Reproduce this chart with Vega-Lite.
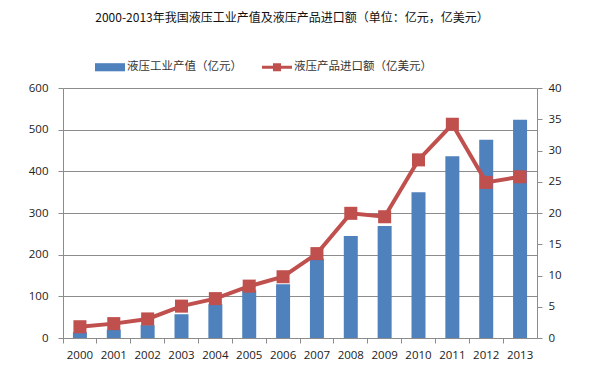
{
  "$schema": "https://vega.github.io/schema/vega-lite/v6.json",
  "width": 474,
  "height": 250,
  "autosize": {"type": "none"},
  "padding": {"left": 63, "top": 88, "right": 61, "bottom": 40},
  "background": "white",
  "title": {
    "text": "2000-2013年我国液压工业产值及液压产品进口额（单位：亿元，亿美元）",
    "anchor": "middle",
    "font": "Noto Sans CJK SC",
    "fontSize": 12,
    "fontWeight": "normal",
    "color": "#111111",
    "offset": 27,
    "dx": -8
  },
  "config": {
    "view": {"stroke": null},
    "axis": {
      "labelFont": "Open Sans",
      "labelFontSize": 11.5,
      "labelColor": "#222222",
      "domainColor": "#8c8c8c",
      "tickColor": "#8c8c8c",
      "gridColor": "#8c8c8c",
      "title": null
    }
  },
  "data": {
    "values": [
      {"year": "2000", "output": 14, "imports": 1.8},
      {"year": "2001", "output": 20, "imports": 2.3},
      {"year": "2002", "output": 31, "imports": 3.05},
      {"year": "2003", "output": 57, "imports": 5.1},
      {"year": "2004", "output": 81, "imports": 6.3},
      {"year": "2005", "output": 115, "imports": 8.3},
      {"year": "2006", "output": 129, "imports": 9.8},
      {"year": "2007", "output": 190, "imports": 13.5},
      {"year": "2008", "output": 245, "imports": 19.95},
      {"year": "2009", "output": 269, "imports": 19.4},
      {"year": "2010", "output": 350, "imports": 28.5},
      {"year": "2011", "output": 436, "imports": 34.2},
      {"year": "2012", "output": 476, "imports": 24.9},
      {"year": "2013", "output": 524, "imports": 25.8}
    ]
  },
  "encoding": {
    "x": {
      "field": "year",
      "type": "ordinal",
      "scale": {"paddingInner": 0, "paddingOuter": 0},
      "axis": {
        "labelAngle": 0,
        "bandPosition": 0,
        "tickSize": 5,
        "labelPadding": 6,
        "grid": false
      }
    }
  },
  "layer": [
    {
      "mark": {"type": "bar", "size": 14},
      "encoding": {
        "y": {
          "field": "output",
          "type": "quantitative",
          "scale": {"domain": [0, 600]},
          "axis": {"values": [0, 100, 200, 300, 400, 500, 600], "tickSize": 5, "labelPadding": 10, "grid": true, "gridWidth": 1}
        },
        "color": {
          "datum": "液压工业产值（亿元）",
          "type": "nominal",
          "scale": {
            "domain": ["液压工业产值（亿元）", "液压产品进口额（亿美元）"],
            "range": ["#4F81BD", "#C0504D"]
          },
          "legend": {
            "title": null,
            "orient": "none",
            "legendX": 32,
            "legendY": -36,
            "direction": "horizontal",
            "symbolSize": 900,
            "labelFont": "Noto Sans CJK SC",
            "labelFontSize": 11.5,
            "labelColor": "#333333",
            "labelOffset": 2,
            "columnPadding": 20,
            "encode": {
              "symbols": {
                "update": {
                  "shape": {"signal": "datum.index === 0 ? 'M-1,-0.27H1V0.27H-1Z' : 'M-1,-0.1H-0.27V-0.27H0.27V-0.1H1V0.1H0.27V0.27H-0.27V0.1H-1Z'"},
                  "fill": {"signal": "datum.index === 0 ? '#4F81BD' : '#C0504D'"},
                  "strokeWidth": {"value": 0},
                  "opacity": {"value": 1}
                }
              }
            }
          }
        }
      }
    },
    {
      "mark": {
        "type": "line",
        "strokeWidth": 4,
        "point": {"shape": "square", "size": 170, "filled": true, "color": "#C0504D", "opacity": 1}
      },
      "encoding": {
        "y": {
          "field": "imports",
          "type": "quantitative",
          "scale": {"domain": [0, 40]},
          "axis": {"orient": "right", "values": [0, 5, 10, 15, 20, 25, 30, 35, 40], "tickSize": 5, "labelPadding": 6, "grid": false}
        },
        "color": {"datum": "液压产品进口额（亿美元）", "type": "nominal"}
      }
    }
  ],
  "resolve": {"scale": {"y": "independent"}}
}
